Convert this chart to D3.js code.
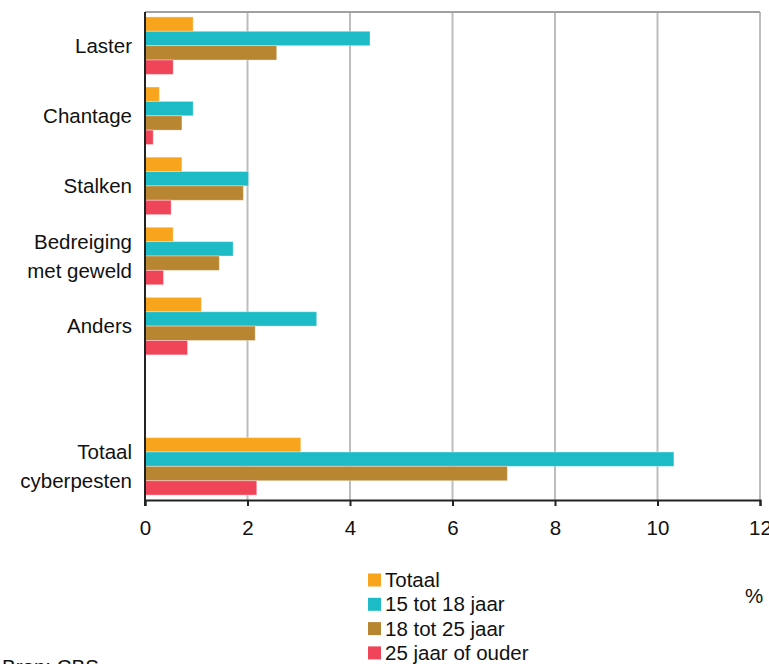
<!DOCTYPE html>
<html>
<head>
<meta charset="utf-8">
<script src="https://cdn.jsdelivr.net/npm/d3@7"></script>
<style>
  html, body { margin: 0; padding: 0; background: #fff; }
  svg { display: block; font-family: "Liberation Sans", Arial, sans-serif; }
</style>
</head>
<body>
<svg id="chart" width="769" height="664"></svg>
<script>
// Categories (top to bottom); the empty slot separates the total from the rest
const categories = ["Laster", "Chantage", "Stalken", "Bedreiging met geweld", "Anders", "", "Totaal cyberpesten"];
const categoryLines = [["Laster"], ["Chantage"], ["Stalken"], ["Bedreiging", "met geweld"], ["Anders"], [], ["Totaal", "cyberpesten"]];

const seriesNames = ["Totaal", "15 tot 18 jaar", "18 tot 25 jaar", "25 jaar of ouder"];
const seriesColors = ["#F8A51D", "#1DBBC6", "#B88531", "#F04459"];

// Percentages per series, in category order (null for the empty slot)
const totaal      = [0.94, 0.28, 0.72, 0.55, 1.10, null, 3.04];
const jaar15tot18 = [4.39, 0.94, 2.02, 1.72, 3.35, null, 10.32];
const jaar18tot25 = [2.57, 0.72, 1.92, 1.45, 2.15, null, 7.07];
const jaar25plus  = [0.55, 0.16, 0.51, 0.36, 0.83, null, 2.18];
const seriesValues = [totaal, jaar15tot18, jaar18tot25, jaar25plus];

const xTicks = [0, 2, 4, 6, 8, 10, 12];

const fontSize = 20.5;
const svg = d3.select("#chart");
const plotLeft = 145, plotRight = 760, plotTop = 12, plotBottom = 500;

const x = d3.scaleLinear().domain([0, 12]).range([plotLeft, plotRight]);
const y = d3.scaleBand().domain(categories).range([plotTop, plotBottom]).paddingInner(0.18).paddingOuter(0.07);
const ySub = d3.scaleBand().domain(seriesNames).range([0, y.bandwidth()]);

// Gridlines
svg.append("g").selectAll("line").data(xTicks.slice(1)).join("line")
  .attr("x1", d => x(d)).attr("x2", d => x(d))
  .attr("y1", plotTop).attr("y2", plotBottom)
  .attr("stroke", "#bdbdbd").attr("stroke-width", 2);

// Top border
svg.append("line").attr("x1", plotLeft).attr("x2", plotRight).attr("y1", plotTop).attr("y2", plotTop)
  .attr("stroke", "#a0a0a0").attr("stroke-width", 2);

// Bars
const rows = [];
categories.forEach((c, i) => {
  seriesValues.forEach((vals, s) => {
    if (vals[i] != null) rows.push({ cat: c, series: seriesNames[s], value: vals[i], color: seriesColors[s] });
  });
});
svg.append("g").selectAll("rect").data(rows).join("rect")
  .attr("x", x(0))
  .attr("y", d => y(d.cat) + ySub(d.series))
  .attr("width", d => x(d.value) - x(0))
  .attr("height", ySub.bandwidth())
  .attr("fill", d => d.color)
  .attr("stroke", "rgba(255,255,255,0.35)")
  .attr("stroke-width", 1);

// X axis
const xAxis = d3.axisBottom(x).tickValues(xTicks).tickSize(6).tickPadding(14).tickFormat(d3.format("d"));
const gx = svg.append("g").attr("transform", `translate(0,${plotBottom})`).call(xAxis);
gx.select(".domain").attr("stroke", "#222").attr("stroke-width", 2);
gx.selectAll(".tick line").attr("stroke", "#222").attr("stroke-width", 2);
gx.selectAll(".tick text").attr("font-size", fontSize).attr("fill", "#111")
  .attr("font-family", "'Liberation Sans', Arial, sans-serif");

// Y axis line
svg.append("line").attr("x1", plotLeft).attr("x2", plotLeft).attr("y1", plotTop).attr("y2", plotBottom + 6)
  .attr("stroke", "#222").attr("stroke-width", 2);

// Category labels
const lab = svg.append("g").attr("font-size", fontSize).attr("fill", "#111").attr("text-anchor", "end");
categories.forEach((c, i) => {
  const lines = categoryLines[i];
  const cy = y(c) + y.bandwidth() / 2;
  lines.forEach((t, k) => {
    lab.append("text")
      .attr("x", 132)
      .attr("y", cy + (k - (lines.length - 1) / 2) * 29)
      .attr("dy", "0.35em")
      .text(t);
  });
});

// Unit
svg.append("text").attr("x", 745).attr("y", 596).attr("dy", "0.35em")
  .attr("font-size", fontSize).attr("fill", "#111").text("%");

// Legend
const lg = svg.append("g").attr("transform", "translate(368,580)");
seriesNames.forEach((n, i) => {
  const g = lg.append("g").attr("transform", `translate(0,${i * 24.3})`);
  g.append("rect").attr("x", 0).attr("y", -6.5).attr("width", 13).attr("height", 13).attr("fill", seriesColors[i]);
  g.append("text").attr("x", 17).attr("y", 0).attr("dy", "0.35em")
    .attr("font-size", fontSize).attr("fill", "#111").text(n);
});

// Source
svg.append("text").attr("x", 2).attr("y", 674).attr("font-size", fontSize).attr("fill", "#111").text("Bron: CBS");
</script>
</body>
</html>
